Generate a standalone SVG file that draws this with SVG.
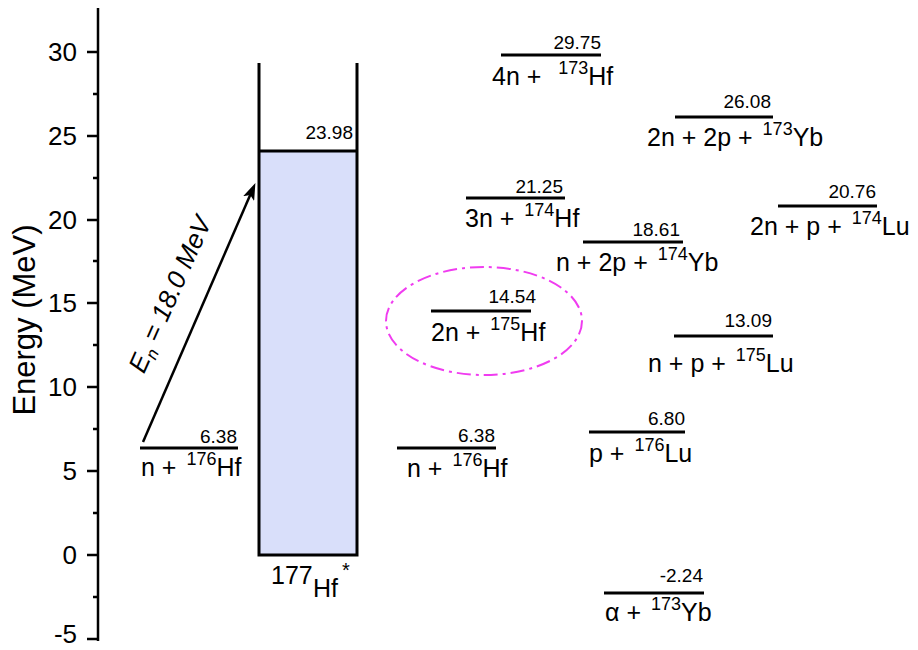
<svg xmlns="http://www.w3.org/2000/svg" width="918" height="650" viewBox="0 0 918 650">
<style>
text{font-family:"Liberation Sans",Arial,sans-serif;fill:#000}
.lbl{font-size:25px;white-space:pre}
.sup{font-size:18px}
.num{font-size:19px;text-anchor:end}
.tick{font-size:26px;text-anchor:end}
.lvl{stroke:#000;stroke-width:3}
.ax{stroke:#000;stroke-width:2.5;fill:none}
</style>
<defs>
<marker id="ah" markerUnits="userSpaceOnUse" markerWidth="18" markerHeight="12" refX="8" refY="6" orient="auto">
<path d="M0,0 L17,6 L0,12 L4,6 z" fill="#000"/>
</marker>
</defs>
<rect width="918" height="650" fill="#fff"/>
<g id="axis">
<line class="ax" x1="98" y1="8" x2="98" y2="641"/>
<path class="ax" d="M87,52H98M87,136H98M87,220H98M87,303H98M87,387H98M87,471H98M87,555H98M87,639H98M93,94H98M93,178H98M93,261H98M93,345H98M93,429H98M93,513H98M93,597H98"/>
<text class="tick" x="77" y="61">30</text>
<text class="tick" x="77" y="145">25</text>
<text class="tick" x="77" y="229">20</text>
<text class="tick" x="77" y="312">15</text>
<text class="tick" x="77" y="396">10</text>
<text class="tick" x="77" y="480">5</text>
<text class="tick" x="77" y="564">0</text>
<text class="tick" x="77" y="643" font-size="25">-5</text>
<text transform="translate(35,320) rotate(-90)" text-anchor="middle" font-size="31">Energy (MeV)</text>
</g>
<g id="compound">
<rect x="259" y="151" width="98" height="404" fill="#d9dffa"/>
<path d="M259,63V556M357,63V556M257.5,555H358.5M259,151H357" stroke="#000" stroke-width="3" fill="none"/>
<text class="num" x="353" y="139">23.98</text>
<text x="271" y="584" font-size="25">177</text>
<text x="313" y="597" font-size="25">Hf</text>
<text x="342" y="577" font-size="20">*</text>
</g>
<g id="ellipse">
<ellipse cx="484" cy="321" rx="98" ry="54" fill="none" stroke="#f03cf0" stroke-width="2" stroke-dasharray="14 5 3 5"/>
</g>
<g id="connectors">
<line x1="143" y1="442" x2="251.8" y2="191.3" stroke="#000" stroke-width="2.5" marker-end="url(#ah)"/>
<text transform="translate(178,298) rotate(-66)" text-anchor="middle" font-size="26" font-style="italic">E<tspan font-size="17" dy="5">n</tspan><tspan dy="-5"> = 18.0 MeV</tspan></text>
</g>
<g id="lvl-left">
<line class="lvl" x1="140" y1="448" x2="238" y2="448"/>
<text class="num" x="237" y="443">6.38</text>
<text class="lbl" x="141" y="476">n + <tspan class="sup" dx="3" dy="-11">176</tspan><tspan dy="11">Hf</tspan></text>
</g>
<g id="lvl-4n">
<line class="lvl" x1="501" y1="55" x2="601" y2="55"/>
<text class="num" x="601" y="49">29.75</text>
<text class="lbl" x="492" y="85">4n +  <tspan class="sup" dx="3" dy="-11">173</tspan><tspan dy="11">Hf</tspan></text>
</g>
<g id="lvl-2n2p">
<line class="lvl" x1="675" y1="117" x2="773" y2="117"/>
<text class="num" x="771" y="108">26.08</text>
<text class="lbl" x="647" y="146">2n + 2p + <tspan class="sup" dx="3" dy="-11">173</tspan><tspan dy="11">Yb</tspan></text>
</g>
<g id="lvl-3n">
<line class="lvl" x1="466" y1="198" x2="565" y2="198"/>
<text class="num" x="563" y="193">21.25</text>
<text class="lbl" x="465" y="227">3n + <tspan class="sup" dx="3" dy="-11">174</tspan><tspan dy="11">Hf</tspan></text>
</g>
<g id="lvl-2np">
<line class="lvl" x1="778" y1="206" x2="877" y2="206"/>
<text class="num" x="876" y="198">20.76</text>
<text class="lbl" x="750" y="235">2n + p + <tspan class="sup" dx="3" dy="-11">174</tspan><tspan dy="11">Lu</tspan></text>
</g>
<g id="lvl-n2p">
<line class="lvl" x1="583" y1="242" x2="683" y2="242"/>
<text class="num" x="680" y="236">18.61</text>
<text class="lbl" x="556" y="271">n + 2p + <tspan class="sup" dx="3" dy="-11">174</tspan><tspan dy="11">Yb</tspan></text>
</g>
<g id="lvl-2n">
<line class="lvl" x1="431" y1="311" x2="531" y2="311"/>
<text class="num" x="536" y="303">14.54</text>
<text class="lbl" x="431" y="341">2n + <tspan class="sup" dx="3" dy="-11">175</tspan><tspan dy="11">Hf</tspan></text>
</g>
<g id="lvl-np">
<line class="lvl" x1="674" y1="336" x2="773" y2="336"/>
<text class="num" x="772" y="327">13.09</text>
<text class="lbl" x="648" y="372">n + p + <tspan class="sup" dx="3" dy="-11">175</tspan><tspan dy="11">Lu</tspan></text>
</g>
<g id="lvl-n">
<line class="lvl" x1="397" y1="448" x2="496" y2="448"/>
<text class="num" x="495" y="442">6.38</text>
<text class="lbl" x="407" y="477">n + <tspan class="sup" dx="3" dy="-11">176</tspan><tspan dy="11">Hf</tspan></text>
</g>
<g id="lvl-p">
<line class="lvl" x1="589" y1="432" x2="685" y2="432"/>
<text class="num" x="685" y="425">6.80</text>
<text class="lbl" x="589" y="462">p + <tspan class="sup" dx="3" dy="-11">176</tspan><tspan dy="11">Lu</tspan></text>
</g>
<g id="lvl-alpha">
<line class="lvl" x1="604" y1="593" x2="704" y2="593"/>
<text class="num" x="703" y="582">-2.24</text>
<text class="lbl" x="605" y="621">α + <tspan class="sup" dx="3" dy="-11">173</tspan><tspan dy="11">Yb</tspan></text>
</g>
</svg>
